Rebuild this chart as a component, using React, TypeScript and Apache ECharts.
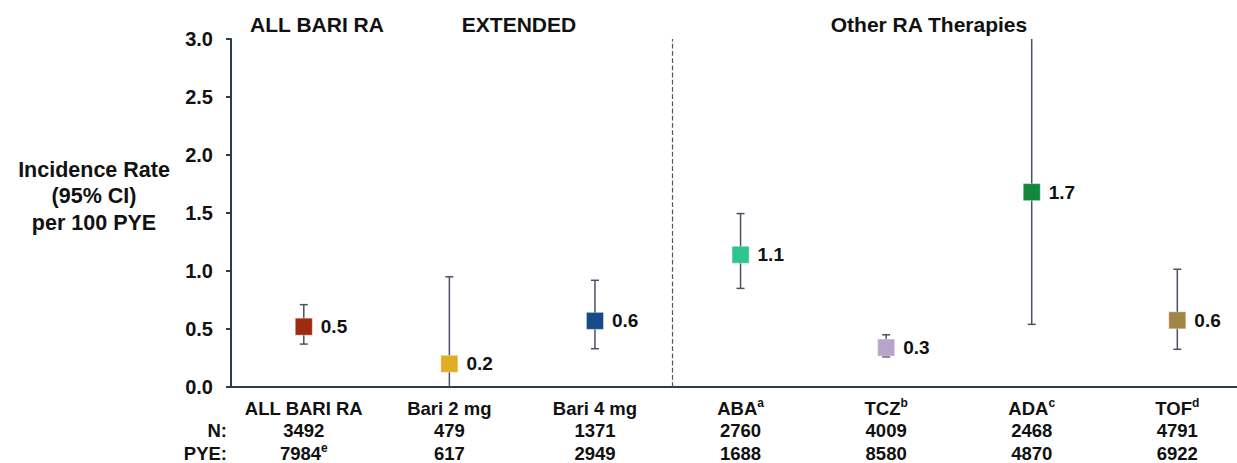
import React, { useEffect, useRef } from "react";
import * as echarts from "echarts";

const categories = ["ALL BARI RA", "Bari 2 mg", "Bari 4 mg", "ABA", "TCZ", "ADA", "TOF"];
const categorySup = ["", "", "", "a", "b", "c", "d"];
const nValues = ["3492", "479", "1371", "2760", "4009", "2468", "4791"];
const pyeValues = ["7984", "617", "2949", "1688", "8580", "4870", "6922"];
const pyeSup = ["e", "", "", "", "", "", ""];
const rates = [0.52, 0.2, 0.57, 1.14, 0.34, 1.68, 0.575];
const ciLower = [0.37, 0, 0.33, 0.85, 0.26, 0.54, 0.325];
const ciUpper = [0.71, 0.95, 0.92, 1.495, 0.45, 3.0, 1.015];
const colors = ["#9E2A10", "#E1AD24", "#164A88", "#2EC58F", "#B8A4CA", "#13873D", "#A18545"];
const yTicks = [0, 0.5, 1.0, 1.5, 2.0, 2.5, 3.0];
const separatorAt = 2.53;
const groupTitles = ["ALL BARI RA", "EXTENDED", "Other RA Therapies"];
const rowLabels = ["N:", "PYE:"];

const FONT = "'Liberation Sans', Arial, sans-serif";
const TEXT = "#111111";
const AXIS = "#2d3b4c";
const ERR = "#485263";

export default function App() {
  const ref = useRef<HTMLDivElement>(null);
  useEffect(() => {
    document.body.style.margin = "0";
    if (!ref.current) return;
    const chart = echarts.init(ref.current, undefined, { renderer: "svg" });
    const yMax = yTicks[yTicks.length - 1];
    const option: any = {
      animation: false,
      backgroundColor: "#ffffff",
      textStyle: { fontFamily: FONT },
      grid: { left: 231, right: 0, top: 39, bottom: 76, outerBoundsMode: "none", containLabel: false },
      xAxis: {
        type: "value",
        min: -0.5,
        max: 6.41,
        splitLine: { show: false },
        axisTick: { show: false },
        axisLine: { show: true, onZero: false, lineStyle: { color: AXIS, width: 2 } },
        axisLabel: {
          customValues: categories.map((_, i) => i),
          margin: 10,
          formatter: (v: number) => {
            const i = Math.round(v);
            const l1 = `{n|${categories[i]}}` + (categorySup[i] ? `{s|${categorySup[i]}}` : "");
            const l2 = `{n|${nValues[i]}}`;
            const l3 = `{n|${pyeValues[i]}}` + (pyeSup[i] ? `{s|${pyeSup[i]}}` : "");
            return [l1, l2, l3].join("\n");
          },
          rich: {
            n: { fontSize: 18.5, fontWeight: "bold", color: TEXT, lineHeight: 22.5, fontFamily: FONT },
            s: { fontSize: 12, fontWeight: "bold", color: TEXT, lineHeight: 22.5, verticalAlign: "top", padding: [0, 0, 6, 0], fontFamily: FONT },
          },
        },
      },
      yAxis: {
        type: "value",
        min: 0,
        max: yMax,
        interval: 0.5,
        splitLine: { show: false },
        axisLine: { show: true, onZero: false, lineStyle: { color: AXIS, width: 2 } },
        axisTick: { show: true, length: 5, lineStyle: { color: AXIS, width: 2 } },
        axisLabel: {
          fontSize: 20,
          fontWeight: "bold",
          color: TEXT,
          margin: 18,
          fontFamily: FONT,
          formatter: (v: number) => v.toFixed(1),
        },
      },
      graphic: [
        { type: "text", x: 317, y: 24, style: { text: groupTitles[0], fontSize: 21, fontWeight: "bold", fill: TEXT, align: "center", verticalAlign: "middle", fontFamily: FONT } },
        { type: "text", x: 519, y: 24, style: { text: groupTitles[1], fontSize: 21, fontWeight: "bold", fill: TEXT, align: "center", verticalAlign: "middle", fontFamily: FONT } },
        { type: "text", x: 929, y: 24, style: { text: groupTitles[2], fontSize: 21, fontWeight: "bold", fill: TEXT, align: "center", verticalAlign: "middle", fontFamily: FONT } },
        { type: "text", x: 94, y: 196, style: { text: "Incidence Rate\n(95% CI)\nper 100 PYE", fontSize: 21.5, lineHeight: 26.5, fontWeight: "bold", fill: TEXT, align: "center", verticalAlign: "middle", fontFamily: FONT } },
        { type: "text", x: 227, y: 430.5, style: { text: rowLabels[0], fontSize: 18.5, fontWeight: "bold", fill: TEXT, align: "right", verticalAlign: "middle", fontFamily: FONT } },
        { type: "text", x: 227, y: 453, style: { text: rowLabels[1], fontSize: 18.5, fontWeight: "bold", fill: TEXT, align: "right", verticalAlign: "middle", fontFamily: FONT } },
      ],
      series: [
        {
          type: "custom",
          z: 2,
          clip: false,
          data: categories.map((_, i) => [i, ciLower[i], ciUpper[i]]),
          encode: { x: 0, y: [1, 2] },
          renderItem: (params: any, api: any) => {
            const x = api.value(0);
            const lo = api.value(1);
            const hi = api.value(2);
            const pLo = api.coord([x, lo]);
            const pHi = api.coord([x, Math.min(hi, yMax)]);
            const cap = 4;
            const st = { stroke: ERR, lineWidth: 1.5 };
            const children: any[] = [
              { type: "line", shape: { x1: pLo[0], y1: pLo[1], x2: pHi[0], y2: pHi[1] }, style: st },
            ];
            if (hi < yMax) children.push({ type: "line", shape: { x1: pHi[0] - cap, y1: pHi[1], x2: pHi[0] + cap, y2: pHi[1] }, style: st });
            if (lo > 0) children.push({ type: "line", shape: { x1: pLo[0] - cap, y1: pLo[1], x2: pLo[0] + cap, y2: pLo[1] }, style: st });
            return { type: "group", children };
          },
        },
        {
          type: "scatter",
          z: 3,
          symbol: "rect",
          symbolSize: 17,
          data: rates.map((v, i) => ({ value: [i, v], itemStyle: { color: colors[i], opacity: 1, borderColor: "rgba(255,255,255,0.35)", borderWidth: 1 } })),
          label: {
            show: true,
            position: "right",
            distance: 8,
            fontSize: 19,
            fontWeight: "bold",
            color: TEXT,
            fontFamily: FONT,
            formatter: (p: any) => (Math.round(p.value[1] * 10) / 10).toFixed(1),
          },
          markLine: {
            silent: true,
            symbol: "none",
            label: { show: false },
            lineStyle: { type: "dashed", color: "#555555", width: 1.2 },
            data: [{ xAxis: separatorAt }],
          },
        },
      ],
    };
    chart.setOption(option);
    return () => chart.dispose();
  }, []);
  return <div ref={ref} style={{ width: 1237, height: 463 }} />;
}
